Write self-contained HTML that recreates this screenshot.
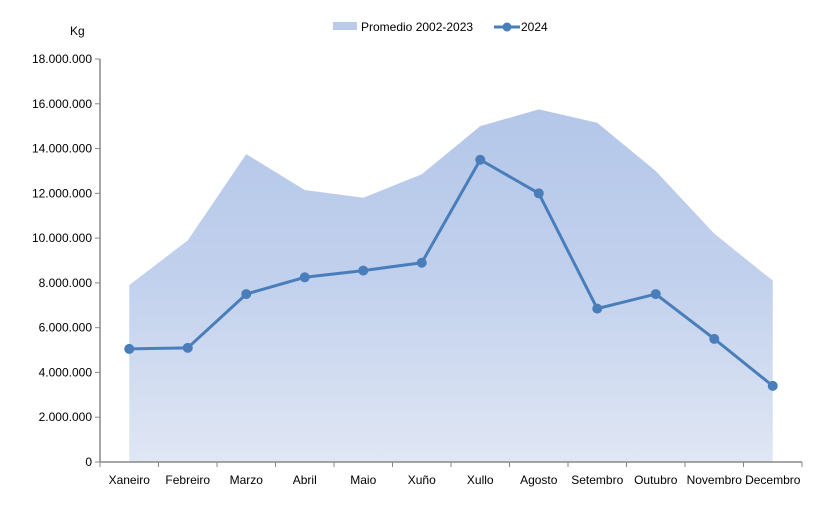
<!DOCTYPE html>
<html><head><meta charset="utf-8"><style>
body{margin:0;background:#fff;}
svg text{font-family:"Liberation Sans",Calibri,sans-serif;font-size:12px;fill:#000;}
</style></head><body>
<svg width="830" height="522" viewBox="0 0 830 522">
<defs><linearGradient id="g" x1="0" y1="0" x2="0" y2="1">
<stop offset="0" stop-color="#b4c7e9"/><stop offset="0.5" stop-color="#c2d1ed"/><stop offset="1" stop-color="#e0e7f4"/></linearGradient></defs>
<text x="70" y="35">Kg</text>
<g>
<rect x="333" y="22" width="24" height="8" fill="#bccbea"/>
<text x="361" y="31">Promedio 2002-2023</text>
<line x1="494" y1="27" x2="520" y2="27" stroke="#4a7ebb" stroke-width="3"/>
<circle cx="507" cy="27" r="4.5" fill="#4a7ebb"/>
<text x="521" y="31">2024</text>
</g>
<g id="area"></g><g id="axes"></g><g id="line"></g>
</svg>
<script>
const categories=["Xaneiro","Febreiro","Marzo","Abril","Maio","Xuño","Xullo","Agosto","Setembro","Outubro","Novembro","Decembro"];
const promedio=[7900000,9900000,13750000,12150000,11800000,12850000,15000000,15750000,15150000,13000000,10200000,8100000];
const serie2024=[5050000,5100000,7500000,8250000,8550000,8900000,13500000,12000000,6850000,7500000,5500000,3400000];
const yTicks=[0,2000000,4000000,6000000,8000000,10000000,12000000,14000000,16000000,18000000];
const yTickLabels=["0","2.000.000","4.000.000","6.000.000","8.000.000","10.000.000","12.000.000","14.000.000","16.000.000","18.000.000"];
const NS="http://www.w3.org/2000/svg";
const x0=100,x1=802,y0=462,y1=59,ymax=18000000;
const bw=(x1-x0)/categories.length;
const xs=i=>x0+bw*(i+0.5);
const ys=v=>y0-(v/ymax)*(y0-y1);
function mk(t,a,p){const e=document.createElementNS(NS,t);for(const k in a)e.setAttribute(k,a[k]);p.appendChild(e);return e;}
const area=document.getElementById('area'),axes=document.getElementById('axes'),line=document.getElementById('line');
let d=`M${xs(0)},${y0}`;promedio.forEach((v,i)=>d+=` L${xs(i)},${ys(v)}`);d+=` L${xs(promedio.length-1)},${y0} Z`;
const ap=mk('path',{d:d,fill:'url(#g)'},area);


const ya=mk('line',{x1:x0,y1:y1,x2:x0,y2:y0,stroke:'#888','stroke-width':1.5},axes);


const xa=mk('line',{x1:x0,y1:y0,x2:x1,y2:y0,stroke:'#888','stroke-width':1.5},axes);


yTicks.forEach((v,i)=>{
 mk('line',{x1:x0-5,y1:ys(v),x2:x0,y2:ys(v),stroke:'#888'},axes);
 const t=mk('text',{x:x0-8,y:ys(v)+4,'text-anchor':'end'},axes);t.textContent=yTickLabels[i];
 
 
});
for(let i=0;i<=categories.length;i++){mk('line',{x1:x0+bw*i,y1:y0,x2:x0+bw*i,y2:y0+5,stroke:'#888'},axes);}
categories.forEach((c,i)=>{
 const t=mk('text',{x:xs(i),y:484,'text-anchor':'middle'},axes);t.textContent=c;
 
 
});
const pts=serie2024.map((v,i)=>xs(i)+','+ys(v)).join(' ');
const pl=mk('polyline',{points:pts,fill:'none',stroke:'#4a7ebb','stroke-width':3,'stroke-linejoin':'round'},line);


serie2024.forEach((v,i)=>{
 const c=mk('circle',{cx:xs(i),cy:ys(v),r:5,fill:'#4a7ebb'},line);
 
 
});
</script>
</body></html>
